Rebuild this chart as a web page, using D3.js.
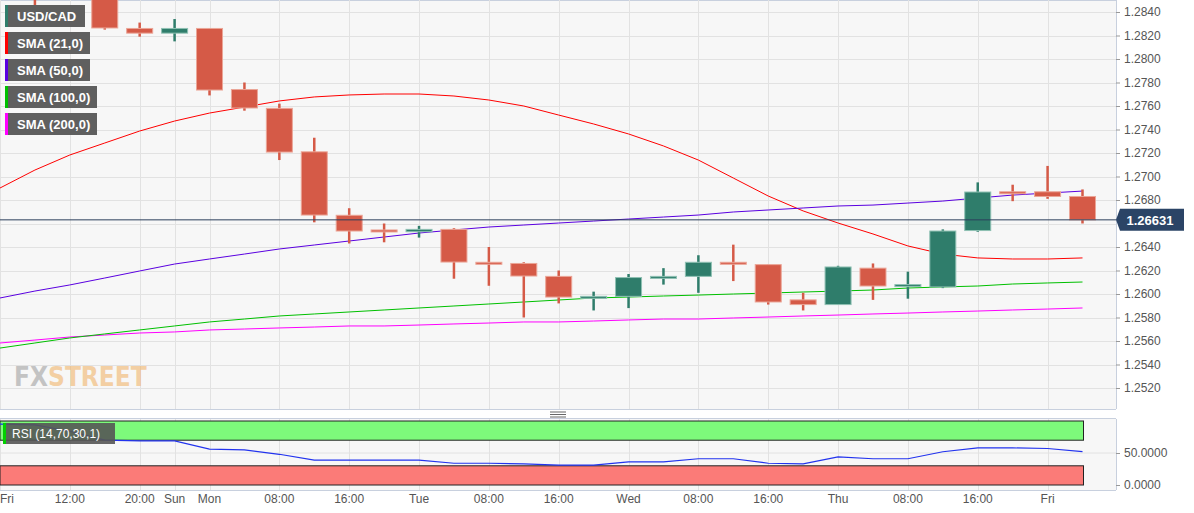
<!DOCTYPE html>
<html>
<head>
<script src="https://d3js.org/d3.v7.min.js"></script>
<style>
  body { margin: 0; background: #fff; font-family: "Liberation Sans", Arial, sans-serif; }
</style>
</head>
<body>
<svg id="chart" width="1194" height="513"></svg>
<script>
// candles: [index, open, high, low, close]
const candles = [
  [1, 1.2870, 1.2880, 1.2841, 1.2855],
  [3, 1.2855, 1.2860, 1.2825, 1.28264],
  [4, 1.2826, 1.2831, 1.2819, 1.2822],
  [5, 1.2822, 1.2834, 1.2815, 1.2826],
  [6, 1.2826, 1.2826, 1.2769, 1.27736],
  [7, 1.2774, 1.2780, 1.2756, 1.27583],
  [8, 1.2758, 1.2762, 1.2714, 1.27208],
  [9, 1.2721, 1.2733, 1.2661, 1.26672],
  [10, 1.2667, 1.2673, 1.2643, 1.26536],
  [11, 1.26545, 1.2660, 1.2644, 1.26535],
  [12, 1.2653, 1.2658, 1.2648, 1.2655],
  [13, 1.2655, 1.2656, 1.2613, 1.26272],
  [14, 1.2627, 1.2640, 1.2607, 1.2626],
  [15, 1.2626, 1.2627, 1.2580, 1.26153],
  [16, 1.2615, 1.2620, 1.2592, 1.25974],
  [17, 1.2597, 1.2602, 1.2586, 1.2598],
  [18, 1.2598, 1.2617, 1.2588, 1.2614],
  [19, 1.2614, 1.2622, 1.2608, 1.2615],
  [20, 1.2615, 1.2633, 1.2601, 1.2627],
  [21, 1.2627, 1.2642, 1.2611, 1.2626],
  [22, 1.2625, 1.2625, 1.2591, 1.25932],
  [23, 1.2595, 1.2601, 1.2586, 1.2591],
  [24, 1.2591, 1.2624, 1.2591, 1.2623],
  [25, 1.2622, 1.2626, 1.2595, 1.26068],
  [26, 1.2607, 1.2619, 1.2596, 1.2608],
  [27, 1.2606, 1.2655, 1.2605, 1.26536],
  [28, 1.2654, 1.2695, 1.2653, 1.26868],
  [29, 1.2687, 1.2693, 1.2679, 1.2686],
  [30, 1.2687, 1.2709, 1.2681, 1.2683],
  [31, 1.2683, 1.2689, 1.2660, 1.26631]
];
const sma21 = [1.26902,1.27055,1.27183,1.27285,1.27387,1.27472,1.2754,1.27591,1.27643,1.27677,1.27694,1.27702,1.27702,1.27685,1.27651,1.2760,1.27523,1.27447,1.27362,1.2726,1.2714,1.26987,1.26834,1.26707,1.26604,1.26511,1.26409,1.2634,1.26307,1.26298,1.26298,1.26307];
const sma50 = [1.25966,1.26025,1.26077,1.26136,1.26196,1.26255,1.26298,1.2634,1.26383,1.26417,1.26451,1.26485,1.26519,1.26545,1.2657,1.26587,1.26604,1.26621,1.26638,1.26655,1.26672,1.26698,1.26715,1.26732,1.26749,1.26757,1.26774,1.26791,1.26817,1.26842,1.26859,1.26876];
const sma100 = [1.2554,1.25583,1.25626,1.2566,1.25694,1.25728,1.25762,1.25787,1.25813,1.2583,1.25847,1.25864,1.25881,1.25898,1.25915,1.25932,1.25949,1.25966,1.25974,1.25983,1.25991,1.2600,1.26008,1.26017,1.26025,1.26034,1.26051,1.2606,1.26068,1.26085,1.26094,1.26102];
const sma200 = [1.25583,1.25608,1.25634,1.25651,1.25668,1.25677,1.25694,1.25702,1.25711,1.25719,1.25728,1.25728,1.25736,1.25745,1.25753,1.25762,1.25762,1.2577,1.25779,1.25787,1.25787,1.25796,1.25804,1.25813,1.25821,1.2583,1.25838,1.25847,1.25855,1.25864,1.25872,1.25881];
const rsi = [95,94,84,70,69,69,56,55,48,39,39,39,39,34,34,33,31,31,36,36,41,41,34,33,44,41,41,52,58,58,57,52];
const xTicks = [[0,"Fri"],[2,"12:00"],[4,"20:00"],[5,"Sun"],[6,"Mon"],[8,"08:00"],[10,"16:00"],[12,"Tue"],[14,"08:00"],[16,"16:00"],[18,"Wed"],[20,"08:00"],[22,"16:00"],[24,"Thu"],[26,"08:00"],[28,"16:00"],[30,"Fri"]];
const priceTicks = d3.range(1.2520, 1.28401, 0.002);
const lastPrice = 1.26631;
const legend = [["USD/CAD","#2f7d6b",80],["SMA (21,0)","#ff0000",85],["SMA (50,0)","#5a00e0",85],["SMA (100,0)","#00c000",92],["SMA (200,0)","#ff00ff",92]];

const svg = d3.select("#chart");
const plotR = 1116;
const x = d3.scaleLinear().domain([0, 31]).range([0, 1082.5]);
const y = d3.scaleLinear().domain([1.2520, 1.2840]).range([388, 12]);
const yr = d3.scaleLinear().domain([0, 100]).range([485, 421]);

// backgrounds
svg.append("rect").attr("x", 0).attr("y", 0).attr("width", plotR).attr("height", 409).attr("fill", "#f7f7f7");
svg.append("rect").attr("x", 0).attr("y", 419).attr("width", plotR).attr("height", 71).attr("fill", "#f7f7f7");
svg.append("line").attr("x1", 0).attr("x2", plotR).attr("y1", 0.5).attr("y2", 0.5).attr("stroke", "#c8d0de");

// grid
const grid = svg.append("g").attr("stroke", "#e2e2e2").attr("stroke-width", 1);
priceTicks.forEach(p => grid.append("line").attr("x1", 0).attr("x2", plotR).attr("y1", Math.round(y(p)) + 0.5).attr("y2", Math.round(y(p)) + 0.5));
xTicks.forEach(t => {
  grid.append("line").attr("x1", Math.round(x(t[0])) + 0.5).attr("x2", Math.round(x(t[0])) + 0.5).attr("y1", 0).attr("y2", 409);
  grid.append("line").attr("x1", Math.round(x(t[0])) + 0.5).attr("x2", Math.round(x(t[0])) + 0.5).attr("y1", 419).attr("y2", 490);
});
grid.append("line").attr("x1", 0).attr("x2", plotR).attr("y1", yr(50)).attr("y2", yr(50));

// watermark
const wm = svg.append("text").attr("x", 14).attr("y", 386).attr("font-size", 26).attr("font-weight", "bold")
  .attr("font-family", "'DejaVu Sans Condensed', 'Liberation Sans Narrow', sans-serif").attr("opacity", 0.55);
wm.append("tspan").attr("fill", "#9a9a9a").text("FX");
wm.append("tspan").attr("fill", "#f0b060").text("STREET");

// SMA lines
const line = d3.line().x((d, i) => x(i)).y(d => y(d));
[[sma200, "#ff00ff"], [sma100, "#00c000"], [sma21, "#ff0000"], [sma50, "#5a00e0"]].forEach(s => {
  svg.append("path").datum(s[0]).attr("d", line).attr("fill", "none").attr("stroke", s[1]).attr("stroke-width", 1);
});

// candles
svg.append("clipPath").attr("id", "mainclip").append("rect").attr("x", 0).attr("y", 0).attr("width", plotR).attr("height", 409);
const cg = svg.append("g").attr("clip-path", "url(#mainclip)");
candles.forEach(c => {
  const [i, o, h, l, cl] = c;
  const col = cl >= o ? "#2f7d6b" : "#d55a47";
  const cx = x(i);
  cg.append("line").attr("x1", cx).attr("x2", cx).attr("y1", y(h)).attr("y2", y(l)).attr("stroke", col).attr("stroke-width", 2.5);
  const top = y(Math.max(o, cl)), bot = y(Math.min(o, cl));
  cg.append("rect").attr("x", cx - 13).attr("y", top).attr("width", 26).attr("height", Math.max(bot - top, 2))
    .attr("fill", col).attr("stroke", col === "#2f7d6b" ? "#8fc0b3" : "#eba597").attr("stroke-width", 1);
});

// last price line
svg.append("line").attr("x1", 0).attr("x2", plotR).attr("y1", y(lastPrice)).attr("y2", y(lastPrice)).attr("stroke", "#2b3f5c").attr("stroke-width", 1);

// right axis
svg.append("line").attr("x1", plotR + 0.5).attr("x2", plotR + 0.5).attr("y1", 0).attr("y2", 409).attr("stroke", "#c8d0de");
svg.append("line").attr("x1", plotR + 0.5).attr("x2", plotR + 0.5).attr("y1", 419).attr("y2", 490).attr("stroke", "#c8d0de");
const ax = svg.append("g").attr("transform", `translate(${plotR},0)`)
  .call(d3.axisRight(y).tickValues(priceTicks.filter(p => Math.abs(p - lastPrice) > 0.0008)).tickFormat(d3.format(".4f")).tickSize(4));
ax.select(".domain").remove();
ax.selectAll("text").attr("font-size", 12).attr("fill", "#555").attr("font-family", "'Liberation Sans', Arial").attr("x", 8);
ax.selectAll("line").attr("stroke", "#999");
// price label
svg.append("path").attr("d", `M${plotR} ${y(lastPrice)} L${plotR + 4} ${y(lastPrice) - 11} H1184 V${y(lastPrice) + 11} H${plotR + 4} Z`).attr("fill", "#2b4466");
svg.append("text").attr("x", 1150).attr("y", y(lastPrice) + 5).attr("text-anchor", "middle").attr("font-size", 13).attr("font-weight", "bold").attr("fill", "#fff").text(lastPrice.toFixed(5));

// RSI panel
svg.append("rect").attr("x", 0).attr("y", yr(100)).attr("width", x(31) + 1).attr("height", yr(70) - yr(100)).attr("fill", "#7dfa7b").attr("stroke", "#222");
svg.append("rect").attr("x", 0).attr("y", yr(30)).attr("width", x(31) + 1).attr("height", yr(0) - yr(30)).attr("fill", "#fb7b78").attr("stroke", "#222");
svg.append("path").datum(rsi).attr("d", d3.line().x((d, i) => x(i)).y(d => yr(d))).attr("fill", "none").attr("stroke", "#2233ee").attr("stroke-width", 1.2);
const rax = svg.append("g").attr("transform", `translate(${plotR},0)`)
  .call(d3.axisRight(yr).tickValues([0, 50]).tickFormat(d3.format(".4f")).tickSize(4));
rax.select(".domain").remove();
rax.selectAll("text").attr("font-size", 12).attr("fill", "#555").attr("x", 8);
rax.selectAll("line").attr("stroke", "#999");
svg.append("rect").attr("x", 3).attr("y", 423).attr("width", 112).attr("height", 21).attr("fill", "#555").attr("opacity", 0.9);
svg.append("rect").attr("x", 3).attr("y", 423).attr("width", 3).attr("height", 21).attr("fill", "#00d000");
svg.append("text").attr("x", 12).attr("y", 438).attr("font-size", 12).attr("fill", "#fff").text("RSI (14,70,30,1)");

// separator
svg.append("line").attr("x1", 0).attr("x2", plotR).attr("y1", 409.5).attr("y2", 409.5).attr("stroke", "#c8d0de");
svg.append("line").attr("x1", 0).attr("x2", plotR).attr("y1", 418.5).attr("y2", 418.5).attr("stroke", "#c8d0de");
[412, 414.5, 417].forEach(v => svg.append("line").attr("x1", 550).attr("x2", 566).attr("y1", v).attr("y2", v).attr("stroke", "#666"));

// x axis labels
svg.append("line").attr("x1", 0).attr("x2", plotR).attr("y1", 490.5).attr("y2", 490.5).attr("stroke", "#c8d0de");
xTicks.forEach(t => {
  svg.append("text").attr("x", t[0] === 0 ? 0 : x(t[0])).attr("y", 503).attr("text-anchor", t[0] === 0 ? "start" : "middle")
    .attr("font-size", 12).attr("fill", "#555").text(t[1]);
});

// legend
legend.forEach((d, i) => {
  const gy = 5 + i * 27;
  svg.append("rect").attr("x", 5).attr("y", gy).attr("width", d[2]).attr("height", 22).attr("fill", "#5f5f5f");
  svg.append("rect").attr("x", 5).attr("y", gy).attr("width", 3).attr("height", 22).attr("fill", d[1]);
  svg.append("text").attr("x", 17).attr("y", gy + 16).attr("font-size", 13).attr("font-weight", "bold").attr("fill", "#fff").text(d[0]);
});
</script>
</body>
</html>
